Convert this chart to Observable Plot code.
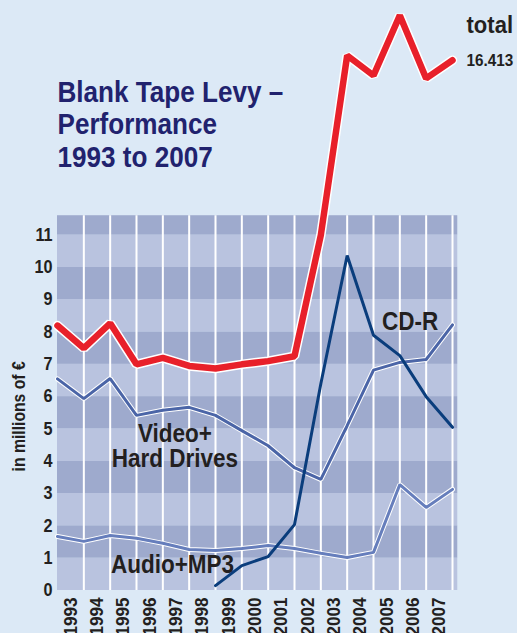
<!DOCTYPE html>
<html><head><meta charset="utf-8">
<script src="https://cdn.jsdelivr.net/npm/d3@7"></script>
<script src="https://cdn.jsdelivr.net/npm/@observablehq/plot@0.6"></script>
<style>
html,body{margin:0;padding:0;background:#dce9f6;}
#chart{width:517px;height:633px;overflow:hidden;position:relative;}
svg{font-family:"Liberation Sans",Arial,sans-serif;}
</style></head><body><div id="chart"></div>
<script>
// Year labels (placed between grid lines, as in the original)
const years = ["1993","1994","1995","1996","1997","1998","1999","2000","2001","2002","2003","2004","2005","2006","2007"];
// 16 data positions along the x axis (grid lines)
const positions = d3.range(16);
const total = [8.2, 7.5, 8.27, 7.0, 7.2, 6.95, 6.87, 7.0, 7.1, 7.25, 11.0, 16.56, 15.94, 17.8, 15.85, 16.413];
const video = [6.55, 5.94, 6.56, 5.42, 5.58, 5.67, 5.42, 4.95, 4.48, 3.8, 3.44, 5.1, 6.82, 7.06, 7.15, 8.22];
const audio = [1.67, 1.52, 1.7, 1.62, 1.46, 1.27, 1.24, 1.3, 1.39, 1.3, 1.15, 1.02, 1.18, 3.28, 2.57, 3.13];
const cdr = [null, null, null, null, null, null, 0.15, 0.77, 1.05, 2.04, 6.4, 10.37, 7.9, 7.27, 6.0, 5.05];
const yTicks = [0,1,2,3,4,5,6,7,8,9,10,11];
const plotTop = 11.6;
const titleText = "Blank Tape Levy –\nPerformance\n1993 to 2007";
const seriesLabels = [
  {text: "CD-R", x: 13.39, y: 8.33},
  {text: "Video+\nHard Drives", x: 4.46, y: 4.47},
  {text: "Audio+MP3", x: 4.37, y: 0.80}
];

const rows = positions.map(i => ({i, total: total[i], video: video[i], audio: audio[i], cdr: cdr[i]}));
const bands = yTicks.map(v => ({y1: v, y2: Math.min(v + 1, plotTop), odd: v % 2 === 1}));

const FONT = '"Liberation Sans",Arial,sans-serif';
const DARK = "#231f20";
const RED = "#e8202a", VIDEO = "#4b65a7", AUDIO = "#667ebc", CDR = "#0a3d7c";

const chart = Plot.plot({
  width: 517, height: 633,
  marginLeft: 57, marginRight: 65, marginTop: 2, marginBottom: 43,
  style: {background: "transparent", fontFamily: FONT, overflow: "visible"},
  x: {type: "linear", domain: [0, 15], axis: null},
  y: {domain: [0, 18.2], axis: null},
  marks: [
    Plot.rect(bands.filter(d => !d.odd), {x1: 0, x2: 15.2, y1: "y1", y2: "y2", fill: "#b9c3df"}),
    Plot.rect(bands.filter(d => d.odd), {x1: 0, x2: 15.2, y1: "y1", y2: "y2", fill: "#9eaacd"}),
    Plot.ruleX(positions.slice(1), {x: d => d, y1: 0, y2: plotTop, stroke: "white", strokeWidth: 2}),
    Plot.axisY(yTicks, {tickSize: 0, tickPadding: 5, fontSize: 18, fontWeight: "bold", fill: DARK, fontFamily: FONT}),
    Plot.axisX(years.map((y, k) => k + 0.5), {tickSize: 0, tickPadding: 7, tickRotate: -90, tickFormat: d => years[Math.floor(d)], fontSize: 19, fontWeight: "bold", fill: DARK, fontFamily: FONT}),
    Plot.text(["in millions of €"], {y: 5.39, frameAnchor: "left", textAnchor: "middle", dx: -38, rotate: -90, fontSize: 17.5, fontWeight: "bold", fill: DARK, fontFamily: FONT}),
    // lines with white halos
    Plot.line(rows, {x: "i", y: "audio", stroke: "white", strokeWidth: 5, strokeLinejoin: "miter"}),
    Plot.line(rows, {x: "i", y: "audio", stroke: AUDIO, strokeWidth: 3, strokeLinejoin: "miter"}),
    Plot.line(rows, {x: "i", y: "video", stroke: "white", strokeWidth: 5, strokeLinejoin: "miter"}),
    Plot.line(rows, {x: "i", y: "video", stroke: VIDEO, strokeWidth: 3, strokeLinejoin: "miter"}),
    Plot.line(rows, {x: "i", y: "cdr", stroke: CDR, strokeWidth: 3, strokeLinejoin: "miter"}),
    Plot.line(rows, {x: "i", y: "total", stroke: "white", strokeWidth: 9.5, strokeLinejoin: "miter"}),
    Plot.line(rows, {x: "i", y: "total", stroke: RED, strokeWidth: 6.5, strokeLinejoin: "miter"}),
    // labels
    Plot.text(seriesLabels, {x: "x", y: "y", text: "text", fontSize: 25, fontWeight: "bold", fill: DARK, lineHeight: 1.02, fontFamily: FONT}),
    Plot.text(rows.slice(-1), {x: "i", y: 17.49, text: () => "total", dx: 14, textAnchor: "start", fontSize: 24.5, fontWeight: "bold", fill: DARK, fontFamily: FONT}),
    Plot.text(rows.slice(-1), {x: "i", y: "total", text: d => d.total.toFixed(3), dx: 14, textAnchor: "start", fontSize: 17, fontWeight: "bold", fill: DARK, fontFamily: FONT}),
    Plot.text([titleText], {frameAnchor: "top-left", dy: 76, lineAnchor: "top", textAnchor: "start", fontSize: 29, fontWeight: "bold", fill: "#21226e", lineHeight: 1.12, fontFamily: FONT})
  ]
});

// condensed look of the original typeface: compress every text along its own baseline
function condense(svg, s) {
  svg.querySelectorAll("text").forEach(t => {
    const tr = t.getAttribute("transform") || "";
    const xa = t.getAttribute("x");
    const x = xa != null && /^-?[\d.]+$/.test(xa) ? +xa : 0;
    t.setAttribute("transform", `${tr} translate(${x},0) scale(${s},1) translate(${-x},0)`.trim());
  });
}
condense(chart, 0.9);
document.getElementById("chart").appendChild(chart);
</script></body></html>
